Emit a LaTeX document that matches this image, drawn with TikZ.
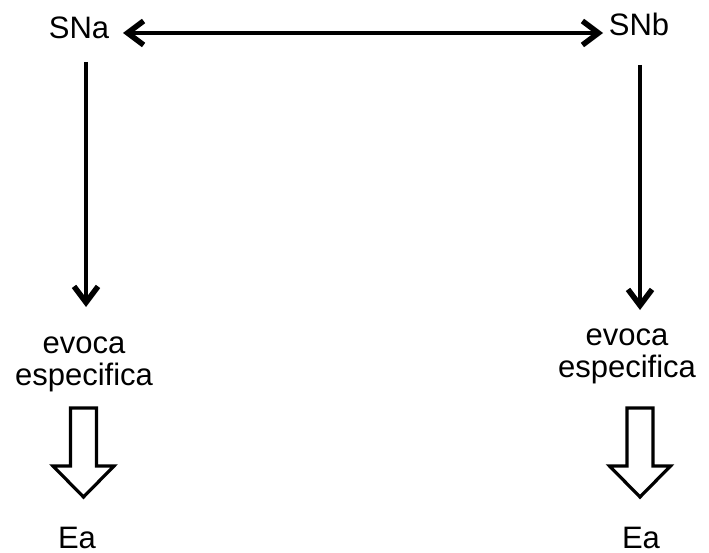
\documentclass[tikz,border=0pt]{standalone}
\usepackage{fontspec}
\setmainfont{Liberation Sans}
\usetikzlibrary{arrows.meta}
\begin{document}
\begin{tikzpicture}[x=1pt,y=-1pt,
  lbl/.style={font=\fontsize{31}{33}\selectfont, anchor=base, inner sep=0pt},
  barb/.tip={Straight Barb[length=16pt,width=24pt,line width=5.5pt]},
  link/.style={line width=4.5pt, -barb},
  biglink/.style={line width=4.5pt, barb-barb},
  hollow/.style={line width=3.2pt, line join=miter, draw=black, fill=white}]
  \useasboundingbox (0,0) rectangle (709,553);

  % top labels
  \node[lbl] (SNa) at (79,39) {SNa};
  \node[lbl] (SNb) at (639,36) {SNb};

  % middle labels
  \node[lbl] (evA) at (84,353) {evoca};
  \node[lbl] (esA) at (84,385) {especifica};
  \node[lbl] (evB) at (627,345) {evoca};
  \node[lbl] (esB) at (627,377) {especifica};

  % bottom labels
  \node[lbl] (EaA) at (77,548) {Ea};
  \node[lbl] (EaB) at (641,548) {Ea};

  % link between the two tops
  \coordinate (hL) at (123,33);
  \coordinate (hR) at (603,33);
  \draw[biglink] (hL) -- (hR);

  % downward links
  \coordinate (vA1) at (86,62);
  \coordinate (vA2) at (86,307);
  \coordinate (vB1) at (640,65);
  \coordinate (vB2) at (640,310);
  \draw[link] (vA1) -- (vA2);
  \draw[link] (vB1) -- (vB2);

  % hollow block arrows
  \foreach \cx in {83.5,640} {
    \draw[hollow] (\cx-13,408) -- (\cx+13,408) -- (\cx+13,466) -- (\cx+30.5,466)
      -- (\cx,497) -- (\cx-30.5,466) -- (\cx-13,466) -- cycle;
  }
\end{tikzpicture}
\end{document}
